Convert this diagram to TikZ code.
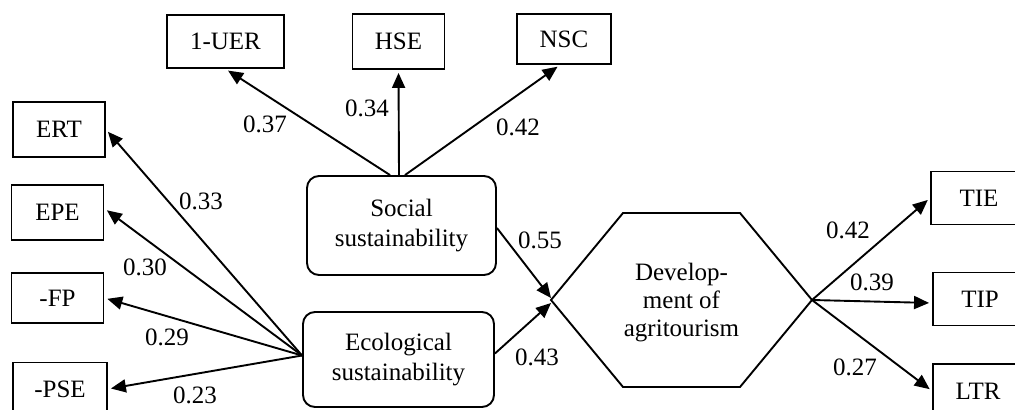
\documentclass[tikz,border=0pt]{standalone}
\usepackage{fontspec}
\setmainfont{Liberation Serif}
\usetikzlibrary{arrows.meta}
\usetikzlibrary{positioning}

\begin{document}
\begin{tikzpicture}[
            x = 0.5pt, y = -0.5pt, % one unit = one pixel of the scan
            > = {Triangle[length=7.5pt,width=6.5pt]}, % arrow head style
            shorten > = 1.5pt, % don't touch arrow head to node
            line width = 0.95pt,
            font = \fontsize{12.5}{15}\selectfont
        ]

        \tikzstyle{indicator}=[
            draw,
            rectangle,
            inner sep = 0pt,
            minimum width = 46pt,
            minimum height = 26.5pt
        ]
        \tikzstyle{latent}=[
            draw,
            rounded corners = 6pt,
            align = center,
            inner sep = 0pt
        ]
        \tikzstyle{coef}=[inner sep = 0pt]

        \useasboundingbox (0,0) rectangle (1015,410);
        \clip (0,0) rectangle (1015,410);

        % latent constructs
        \node[latent, minimum width=94.5pt, minimum height=49.5pt] (social) at (401.5,225.5) {Social\\sustainability};
        \node[latent, minimum width=95.5pt, minimum height=47.5pt] (eco) at (398.5,359.5) {Ecological\\sustainability};

        % outcome
        \coordinate (hl) at (551,300);
        \coordinate (htl) at (623,213);
        \coordinate (htr) at (740,213);
        \coordinate (hr) at (812,300);
        \coordinate (hbr) at (740,387);
        \coordinate (hbl) at (623,387);
        \draw (hl) -- (htl) -- (htr) -- (hr) -- (hbr) -- (hbl) -- cycle;
        \node[align=center, font=\fontsize{12.5}{14}\selectfont] (dev) at (681.5,303) {Develop-\\ment of\\agritourism};

        % social indicators
        \node[indicator, minimum width=58.5pt] (uer) at (225.5,41.5) {1-UER};
        \node[indicator, minimum height=27.5pt] (hse) at (398.5,41.5) {HSE};
        \node[indicator, minimum width=47pt, minimum height=25pt] (nsc) at (564,39) {NSC};

        % ecological indicators
        \node[indicator, minimum height=27.5pt] (ert) at (59,129.5) {ERT};
        \node[indicator, minimum height=27.5pt] (epe) at (57.5,212.5) {EPE};
        \node[indicator, minimum height=25pt] (fp) at (57.5,298) {-FP};
        \node[indicator, minimum width=47pt] (pse) at (60,389) {-PSE};

        % agritourism indicators
        \node[indicator, minimum width=48pt] (tie) at (979,198) {TIE};
        \node[indicator, minimum width=47pt] (tip) at (980,299) {TIP};
        \node[indicator, minimum width=45pt, minimum height=27pt] (ltr) at (978,391) {LTR};

        \path[->] ([xshift=-5.75pt]social.north) edge (uer.south);
        \path[->] ([xshift=-1.25pt]social.north) edge (hse.south);
        \path[->] ([xshift=1.75pt]social.north) edge ([xshift=-2pt]nsc.south);

        \coordinate (efan) at ([yshift=2pt]eco.west);
        \path[->] (efan) edge (ert.east);
        \path[->] (efan) edge ([yshift=2pt]epe.east);
        \path[->] (efan) edge (fp.east);
        \path[->] (efan) edge (pse.east);

        \path[->, shorten > = 0pt] ([yshift=-1.25pt]social.east) edge ([yshift=1pt]hl);
        \path[->, shorten > = 0pt] ([yshift=3pt]eco.east) edge ([yshift=-1.5pt]hl);

        \path[->] (hr) edge (tie.west);
        \path[->] (hr) edge ([yshift=-2pt]tip.west);
        \path[->] (hr) edge (ltr.west);

        % path coefficients
        \node[coef] (c37) at (265,124) {0.37};
        \node[coef] (c34) at (367,108) {0.34};
        \node[coef] (c42a) at (518,127) {0.42};
        \node[coef] (c33) at (201,201) {0.33};
        \node[coef] (c30) at (145,267) {0.30};
        \node[coef] (c29) at (167,337) {0.29};
        \node[coef] (c23) at (195,395) {0.23};
        \node[coef] (c55) at (540,240) {0.55};
        \node[coef] (c43) at (537,357) {0.43};
        \node[coef] (c42b) at (848,230) {0.42};
        \node[coef] (c39) at (872,282) {0.39};
        \node[coef] (c27) at (855,367) {0.27};

  \end{tikzpicture}
\end{document}
